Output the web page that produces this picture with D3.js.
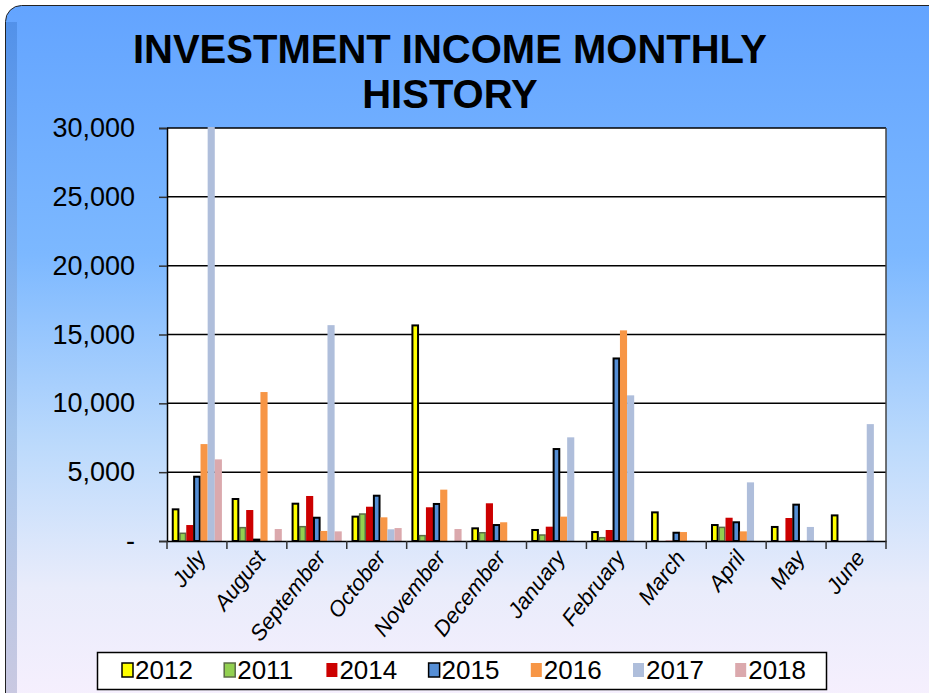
<!DOCTYPE html>
<html>
<head>
<meta charset="utf-8">
<script src="https://cdn.jsdelivr.net/npm/d3@7"></script>
<style>
  body { margin: 0; background: #fff; }
  svg { display: block; font-family: Arial, "Liberation Sans", sans-serif; }
</style>
</head>
<body>
<div id="chart"></div>
<script>
// categories and series
const months = ["July", "August", "September", "October", "November", "December",
                "January", "February", "March", "April", "May", "June"];
const years = ["2012", "2011", "2014", "2015", "2016", "2017", "2018"];

const v2012 = [2300, 3050, 2710, 1770, 15660, 920, 800, 650, 2080, 1160, 1020, 1860];
const v2011 = [560, 970, 1040, 1960, 390, 600, 435, 240, 0, 990, 0, 0];
const v2014 = [1160, 2250, 3270, 2490, 2450, 2740, 1040, 800, 20, 1690, 1670, 0];
const v2015 = [4670, 100, 1690, 3290, 2690, 1160, 6680, 13260, 600, 1360, 2640, 0];
const v2016 = [7040, 10820, 730, 1720, 3730, 1360, 1770, 15300, 650, 700, 0, 0];
const v2017 = [31000, 0, 15680, 850, 0, 0, 7530, 10580, 20, 4260, 1020, 8490];
const v2018 = [5930, 870, 700, 940, 870, 0, 0, 0, 0, 0, 0, 0];

const yTicks = [0, 5000, 10000, 15000, 20000, 25000, 30000];

const seriesValues = [v2012, v2011, v2014, v2015, v2016, v2017, v2018];
const fills = ["#FFFF00", "#92D050", "#CC0000", "#558ED5", "#F79646", "#AFBEDB", "#DBA9AD"];
const strokes = ["#000", "#5b6b45", "none", "#000", "none", "none", "none"];

const W = 929, H = 693;
const margin = { top: 128, right: 43, bottom: 152, left: 167 };
const width = W - margin.left - margin.right,
      height = H - margin.top - margin.bottom;

const svg = d3.select("#chart").append("svg")
    .attr("width", W)
    .attr("height", H);

const defs = svg.append("defs");
const bg = defs.append("linearGradient")
    .attr("id", "bg").attr("x1", 0).attr("y1", 0).attr("x2", 0).attr("y2", 1);
[["0%", "#63a4ff"], ["35%", "#7cb8ff"], ["62%", "#bcdafc"], ["82%", "#e9ecfb"], ["100%", "#f8f0fe"]]
    .forEach(s => bg.append("stop").attr("offset", s[0]).attr("stop-color", s[1]));
const bevel = defs.append("linearGradient")
    .attr("id", "bevel").attr("x1", 0).attr("y1", 0).attr("x2", 0).attr("y2", 1);
[["0%", "#4f8ee6"], ["60%", "#9bbde6"], ["100%", "#c3c2dc"]]
    .forEach(s => bevel.append("stop").attr("offset", s[0]).attr("stop-color", s[1]));
defs.append("clipPath").attr("id", "plotclip")
    .append("rect").attr("width", width).attr("height", height + 2).attr("y", -1);

// panel background
svg.append("rect")
    .attr("x", 5.5).attr("y", 5.5)
    .attr("width", 940).attr("height", 710)
    .attr("rx", 16)
    .attr("fill", "url(#bg)")
    .attr("stroke", "#222").attr("stroke-width", 1);
svg.append("rect")
    .attr("x", 6).attr("y", 22).attr("width", 11).attr("height", 680)
    .attr("fill", "url(#bevel)").attr("opacity", 0.85);

// title
const title = svg.append("text")
    .attr("text-anchor", "middle")
    .attr("font-weight", "bold")
    .attr("font-size", 40)
    .attr("fill", "#000");
title.append("tspan").attr("x", 450).attr("y", 63).text("INVESTMENT INCOME MONTHLY");
title.append("tspan").attr("x", 450).attr("y", 108).text("HISTORY");

const g = svg.append("g").attr("transform", `translate(${margin.left},${margin.top})`);

const x = d3.scaleBand().domain(months).range([0, width]).padding(0);
const xi = d3.scaleBand().domain(years).range([5, x.bandwidth() - 5]).padding(0);
const y = d3.scaleLinear().domain([0, 30000]).range([height, 0]);

// plot area
g.append("rect").attr("width", width).attr("height", height).attr("fill", "#fff");

// grid lines
g.append("g").selectAll("line")
    .data(yTicks.slice(1))
    .enter().append("line")
    .attr("x1", 0).attr("x2", width)
    .attr("y1", d => y(d)).attr("y2", d => y(d))
    .attr("stroke", "#000").attr("stroke-width", 1.5);

// bars
const bars = g.append("g").attr("clip-path", "url(#plotclip)");
years.forEach((yr, k) => {
    bars.append("g").selectAll("rect")
        .data(seriesValues[k].map((v, i) => ({ m: months[i], v: v })))
        .enter().filter(d => d.v > 0).append("rect")
        .attr("x", d => x(d.m) + xi(yr) + (strokes[k] === "none" ? 0 : 0.75))
        .attr("width", xi.bandwidth() - (strokes[k] === "none" ? 0 : 1.5))
        .attr("y", d => y(Math.min(d.v, 30400)))
        .attr("height", d => height - y(Math.min(d.v, 30400)))
        .attr("fill", fills[k])
        .attr("stroke", strokes[k])
        .attr("stroke-width", k === 1 ? 1.5 : 2);
});

// plot frame right side
g.append("line").attr("x1", width).attr("x2", width).attr("y1", 0).attr("y2", height)
    .attr("stroke", "#444").attr("stroke-width", 1.5);

// y axis
const yAxis = g.append("g")
    .call(d3.axisLeft(y).tickValues(yTicks).tickSize(8).tickPadding(24)
        .tickFormat(d => d === 0 ? "-" : d3.format(",")(d)));
yAxis.select(".domain").attr("stroke", "#000").attr("stroke-width", 1.5);
yAxis.selectAll(".tick line").attr("stroke", "#333").attr("stroke-width", 1.5);
yAxis.selectAll("text").attr("font-size", 27).attr("fill", "#000")
    .attr("font-family", "Arial, 'Liberation Sans', sans-serif");

// x axis
const xAxis = g.append("g").attr("transform", `translate(0,${height})`)
    .call(d3.axisBottom(x).tickSize(0).tickFormat(""));
xAxis.select(".domain").attr("stroke", "#000").attr("stroke-width", 1.5);
xAxis.append("g").selectAll("line")
    .data(months.concat(["_end"]))
    .enter().append("line")
    .attr("x1", (d, i) => i * x.step()).attr("x2", (d, i) => i * x.step())
    .attr("y1", 0).attr("y2", 8)
    .attr("stroke", "#333").attr("stroke-width", 1.5);
g.append("g").selectAll("text")
    .data(months)
    .enter().append("text")
    .attr("transform", d => `translate(${x(d) + x.bandwidth() / 2 + 10},${height + 17}) rotate(-52)`)
    .attr("text-anchor", "end")
    .attr("font-size", 22)
    .attr("font-style", "italic")
    .attr("fill", "#000")
    .text(d => d);

// legend
const legend = svg.append("g");
legend.append("rect")
    .attr("x", 97.5).attr("y", 652.5).attr("width", 729).attr("height", 37)
    .attr("fill", "#fff").attr("stroke", "#000").attr("stroke-width", 1.5);
const entry = legend.selectAll("g.legend_entry")
    .data(years)
    .enter().append("g")
    .attr("class", "legend_entry")
    .attr("transform", (d, i) => `translate(${122 + i * 102.2},663)`);
entry.append("rect")
    .attr("width", 11).attr("height", 14)
    .attr("fill", (d, i) => fills[i])
    .attr("stroke", (d, i) => strokes[i])
    .attr("stroke-width", 1.5);
entry.append("text")
    .attr("x", 13).attr("y", 16)
    .attr("font-size", 26)
    .attr("fill", "#000")
    .text(d => d);
</script>
</body>
</html>
